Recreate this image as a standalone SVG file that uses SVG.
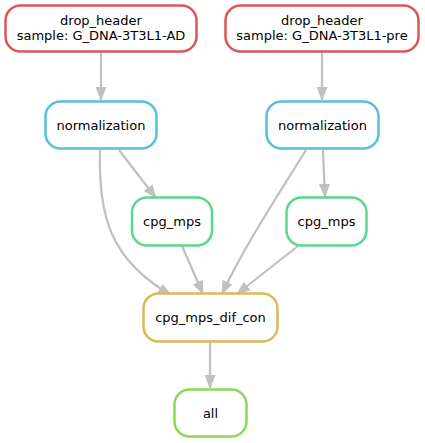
<svg xmlns="http://www.w3.org/2000/svg" width="425" height="443" viewBox="0 0 425 443">
<defs>
<marker id="ah" markerUnits="userSpaceOnUse" markerWidth="14" markerHeight="12" refX="13" refY="5.5" orient="auto" viewBox="0 0 14 11">
<path d="M0,0 L14,5.5 L0,11 z" fill="#c0c0c0"/>
</marker>
<style>
.n rect{fill:#fff;stroke-width:2.5}
.n text{font-family:"DejaVu Sans",sans-serif;font-size:13px;fill:#000;text-anchor:middle}
#edges path{fill:none;stroke:#c0c0c0;stroke-width:2.2;marker-end:url(#ah)}
</style>
</defs>
<rect width="425" height="443" fill="#fff"/>
<g id="edges">
<path d="M101,52 L101,100"/>
<path d="M322,52 L322,100"/>
<path d="M119,150 L156,198"/>
<path d="M100,150 C98,215 110,260 171,295"/>
<path d="M182,246 L203,294"/>
<path d="M306,150 C275,200 245,245 222,294"/>
<path d="M323,150 L325,197"/>
<path d="M298,246 L237,294"/>
<path d="M210,342 L210,388"/>
</g>
<g id="n1" class="n"><rect x="5.5" y="5.5" width="191" height="46" rx="15" stroke="#d95757"/><text x="101" y="25">drop_header</text><text x="101" y="40">sample: G_DNA-3T3L1-AD</text></g>
<g id="n2" class="n"><rect x="225.5" y="5.5" width="193" height="46" rx="15" stroke="#d95757"/><text x="322" y="25">drop_header</text><text x="322" y="40">sample: G_DNA-3T3L1-pre</text></g>
<g id="n3" class="n"><rect x="45.5" y="101.5" width="111" height="47" rx="15" stroke="#57c0d9"/><text x="101" y="129.5">normalization</text></g>
<g id="n4" class="n"><rect x="266.5" y="101.5" width="112" height="47" rx="15" stroke="#57c0d9"/><text x="322.5" y="129.5">normalization</text></g>
<g id="n5" class="n"><rect x="132" y="197.5" width="80" height="48" rx="15" stroke="#57d98b"/><text x="172" y="226">cpg_mps</text></g>
<g id="n6" class="n"><rect x="286.5" y="197.5" width="80" height="48" rx="15" stroke="#57d98b"/><text x="326.5" y="226">cpg_mps</text></g>
<g id="n7" class="n"><rect x="143.5" y="293.5" width="134" height="48" rx="15" stroke="#d9bb57"/><text x="210.5" y="322">cpg_mps_dif_con</text></g>
<g id="n8" class="n"><rect x="174.5" y="389.5" width="72" height="47" rx="15" stroke="#8ad957"/><text x="210.5" y="418">all</text></g>
</svg>
